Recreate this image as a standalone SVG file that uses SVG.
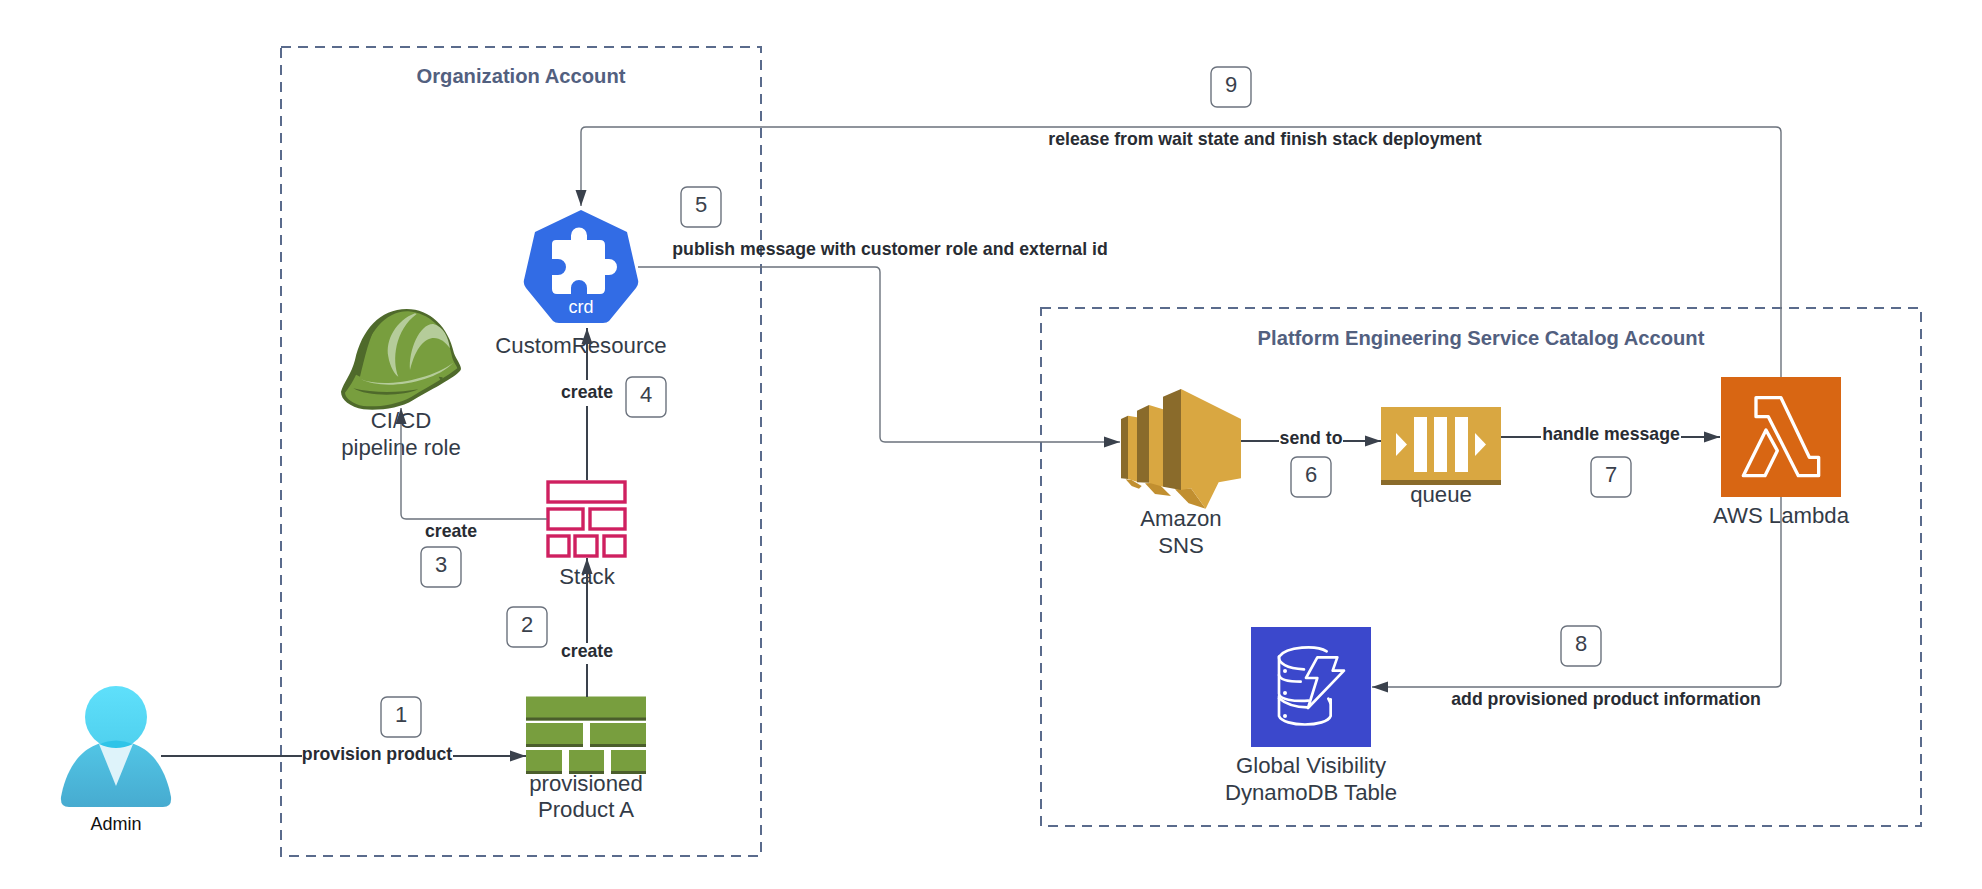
<svg xmlns="http://www.w3.org/2000/svg" width="1982" height="889" viewBox="0 0 1982 889">
<style>
text{font-family:"Liberation Sans",Arial,sans-serif;text-anchor:middle}
.box{fill:none;stroke:#5a6b8c;stroke-width:2;stroke-dasharray:10 7}
.title{font-size:20.200px;font-weight:bold;fill:#52607f}
.lbl{font-size:22.200px;fill:#333b47}
.cl{font-size:17.700px;font-weight:bold;fill:#282c33}
.badge rect{fill:#fff;stroke:#6b727d;stroke-width:1.400}
.badge text{font-size:22px;fill:#3a414c}
.thick{fill:none;stroke:#3a414c;stroke-width:2}
.thin{fill:none;stroke:#6b727c;stroke-width:1.400}
.bg{fill:#fff}
</style>
<defs>
<marker id="arrow" markerUnits="userSpaceOnUse" markerWidth="16" markerHeight="12" refX="16" refY="6" orient="auto"><path d="M0 0.500L16 6L0 11.500z" fill="#3a414c"/></marker>
<linearGradient id="head" x1="0" y1="0" x2="0" y2="1"><stop offset="0" stop-color="#5fe0fb"/><stop offset="1" stop-color="#4fd0ee"/></linearGradient>
<linearGradient id="body" x1="0" y1="0" x2="0" y2="1"><stop offset="0" stop-color="#52c6e6"/><stop offset="1" stop-color="#47abd0"/></linearGradient>
</defs>
<g id="containers">
<rect class="box" x="281" y="47" width="480" height="809"/>
<text class="title" x="521" y="83">Organization Account</text>
<rect class="box" x="1041" y="308" width="880" height="518"/>
<text class="title" x="1481" y="345">Platform Engineering Service Catalog Account</text>
</g>
<g id="admin">
<path d="M116 741C154 741 167 775 171 797Q172 807 163 807H69Q60 807 61 797C65 775 78 741 116 741Z" fill="url(#body)"/>
<ellipse cx="116" cy="717" rx="31" ry="31" fill="url(#head)"/>
<path d="M99 744Q116 741 133 744L116 786Z" fill="#def3fa"/>
<path d="M99 744Q116 737 133 744Q116 752 99 744Z" fill="#2fc4e8"/>
<text x="116" y="829.500" style="font-size:18px;fill:#111">Admin</text>
</g>
<g id="product-a">
<g fill="#789e3e">
<rect x="526" y="696.500" width="120" height="24"/><rect x="526" y="723" width="57" height="24"/><rect x="590" y="723" width="56" height="24"/>
<rect x="526" y="750" width="36" height="24"/><rect x="569" y="750" width="35" height="24"/><rect x="611" y="750" width="35" height="24"/>
</g>
<g fill="#4b5e2c">
<rect x="526" y="717.500" width="120" height="3"/><rect x="526" y="744" width="57" height="3"/><rect x="590" y="744" width="56" height="3"/>
<rect x="526" y="771" width="36" height="3"/><rect x="569" y="771" width="35" height="3"/><rect x="611" y="771" width="35" height="3"/>
</g>
<text class="lbl" x="586" y="791">provisioned</text>
<text class="lbl" x="586" y="817">Product A</text>
</g>
<g id="stack">
<g fill="none" stroke="#cf2060" stroke-width="3.400">
<rect x="548" y="482" width="77" height="20"/><rect x="548" y="509" width="35" height="20"/><rect x="590" y="509" width="35" height="20"/>
<rect x="548" y="536" width="21" height="20"/><rect x="575" y="536" width="22" height="20"/><rect x="604" y="536" width="21" height="20"/>
</g>
<text class="lbl" x="587" y="584">Stack</text>
</g>
<g id="customresource">
<path d="M581 210L627 232L638 280Q639 284 636 288L609 321Q607 323 603 323H559Q555 323 553 321L526 288Q523 284 524 280L535 232Z" fill="#326ce5"/>
<path d="M556 240H571V235.500A8 8 0 0 1 587 235.500V240H600Q605 240 605 245V259H609A8 8 0 0 1 609 275H605V289Q605 294 600 294H587V288A8 8 0 0 0 571 288V294H557Q552 294 552 289V275H558A8 8 0 0 0 558 259H552V244Q552 240 556 240Z" fill="#fff"/>
<text x="581" y="313" style="font-size:18px;fill:#fff">crd</text>
<text class="lbl" x="581" y="353">CustomResource</text>
</g>
<g id="cicd-role">
<g transform="translate(300 180) scale(.3333)">
<path d="M320 387C390 387 445 440 462 520C470 540 483 555 483 567C480 585 400 625 340 660C300 685 240 692 190 688C150 680 123 660 123 635C130 610 155 580 165 540C185 450 240 387 320 387Z" fill="#4f6a2b"/>
<path d="M325 394C385 398 440 445 455 525C458 545 470 555 472 565C440 590 400 612 335 650C290 675 230 682 190 678C160 672 135 655 135 638C150 620 170 590 185 540C205 460 255 392 325 394Z" fill="#789e3e"/>
<path d="M345 400C290 420 255 480 265 530C270 560 285 585 295 590C275 540 285 450 350 402Z" fill="#b5cc9a"/>
<path d="M330 570C325 510 360 430 400 432C430 440 445 470 450 505C420 460 360 450 330 570Z" fill="#b5cc9a"/>
<path d="M183 598C250 625 390 600 460 548C400 610 250 632 183 598Z" fill="#b5cc9a"/>
<path d="M160 625C220 640 300 638 355 628C310 650 200 650 160 625Z" fill="#4f6a2b"/>
<path d="M160 580C175 535 195 470 235 420C205 480 195 530 180 590Z" fill="#4f6a2b"/>
<path d="M416 590L428 592L426 608Z" fill="#4f6a2b"/>
</g>
<text class="lbl" x="401" y="428">CI/CD</text>
<text class="lbl" x="401" y="455">pipeline role</text>
</g>
<g id="sns">
<g transform="translate(1090 360) scale(.3333)">
<path d="M107 358L125 360L155 378L147 386L125 378Z" fill="#c18f30"/>
<path d="M93 177L114 167V357L93 355Z" fill="#8a6b2b"/>
<path d="M114 167L141 172V365L114 357Z" fill="#d9a741"/>
<path d="M165 370L203 368L243 408L195 402Z" fill="#c18f30"/>
<path d="M141 152L177 135V368L141 367Z" fill="#8a6b2b"/>
<path d="M177 135L219 148V380L177 368Z" fill="#d9a741"/>
<path d="M255 388L303 385L347 446L296 430Z" fill="#c18f30"/>
<path d="M219 110L273 87V390L219 380Z" fill="#8a6b2b"/>
<path d="M273 87L453 177V355L386 367L347 446L303 385L273 390Z" fill="#d9a741"/>
</g>
<text class="lbl" x="1181" y="526">Amazon</text>
<text class="lbl" x="1181" y="553">SNS</text>
</g>
<g id="queue">
<rect x="1381" y="407" width="120" height="78" fill="#d9a741"/>
<rect x="1381" y="480" width="120" height="5" fill="#8a6b2b"/>
<g fill="#fff">
<rect x="1414" y="417" width="13" height="55"/><rect x="1434" y="417" width="13" height="55"/><rect x="1455" y="417" width="13" height="55"/>
<path d="M1396 433L1407 444.500L1396 456Z"/><path d="M1475 433L1486 444.500L1475 456Z"/>
</g>
<text class="lbl" x="1441" y="502">queue</text>
</g>
<g id="lambda">
<rect x="1721" y="377" width="120" height="120" fill="#d86613"/>
<g transform="translate(1680 360) scale(.3333)" fill="none" stroke="#fff" stroke-width="10" stroke-linejoin="round">
<path d="M228 113H303L388 292H416V347H355L265 170H228Z"/>
<path d="M258 210L292 272L255 347H190Z"/>
</g>
<text class="lbl" x="1781" y="523">AWS Lambda</text>
</g>
<g id="dynamodb">
<rect x="1251" y="627" width="120" height="120" fill="#3b48cc"/>
<g transform="translate(1230 610) scale(.3333)" fill="none" stroke="#fff" stroke-width="8" stroke-linecap="round">
<path d="M290 124C260 105 170 108 147 140C145 160 170 175 222 178"/>
<path d="M147 140V195C150 210 180 215 212 215"/>
<path d="M147 195V252C150 268 190 275 235 272"/>
<path d="M147 258V318C160 352 290 352 302 318V268"/>
<path d="M262 142H322L308 182H342L234 294L262 204H228Z" stroke-linejoin="round"/>
<path d="M147 265C170 285 205 292 232 292M295 266L302 280"/>
</g>
<g fill="#fff"><circle cx="1285" cy="671" r="2"/><circle cx="1285" cy="693" r="2"/><circle cx="1285" cy="716" r="2"/></g>
<text class="lbl" x="1311" y="773">Global Visibility</text>
<text class="lbl" x="1311" y="800">DynamoDB Table</text>
</g>
<g id="connectors">
<path class="thick" d="M161 756H526" marker-end="url(#arrow)"/>
<path class="thick" d="M587 697V558" marker-end="url(#arrow)"/>
<path class="thick" d="M587 480V328" marker-end="url(#arrow)"/>
<path class="thin" d="M547 519H406Q401 519 401 514V408" marker-end="url(#arrow)"/>
<path class="thin" d="M638 267H875Q880 267 880 272V437Q880 442 885 442H1120" marker-end="url(#arrow)"/>
<path class="thick" d="M1241 441H1381" marker-end="url(#arrow)"/>
<path class="thick" d="M1501 437H1720" marker-end="url(#arrow)"/>
<path class="thin" d="M1781 497V682Q1781 687 1776 687H1372" marker-end="url(#arrow)"/>
<path class="thin" d="M1781 377V132Q1781 127 1776 127H586Q581 127 581 132V206" marker-end="url(#arrow)"/>
</g>
<g id="connector-labels">
<rect class="bg" x="302" y="745" width="151" height="22"/><text class="cl" x="377" y="760">provision product</text>
<rect class="bg" x="560" y="643" width="54" height="21"/><text class="cl" x="587" y="657">create</text>
<rect class="bg" x="426" y="520" width="52" height="21"/><text class="cl" x="451" y="537">create</text>
<rect class="bg" x="560" y="380" width="54" height="26"/><text class="cl" x="587" y="398">create</text>
<text class="cl" x="890" y="255">publish message with customer role and external id</text>
<rect class="bg" x="1279" y="428" width="64" height="22"/><text class="cl" x="1311" y="444">send to</text>
<rect class="bg" x="1541" y="424" width="140" height="22"/><text class="cl" x="1611" y="440">handle message</text>
<text class="cl" x="1606" y="705">add provisioned product information</text>
<text class="cl" x="1265" y="145">release from wait state and finish stack deployment</text>
</g>
<g id="badges">
<g class="badge"><rect x="381" y="697" width="40" height="40" rx="6"/><text x="401" y="722">1</text></g>
<g class="badge"><rect x="507" y="607" width="40" height="40" rx="6"/><text x="527" y="632">2</text></g>
<g class="badge"><rect x="421" y="547" width="40" height="40" rx="6"/><text x="441" y="572">3</text></g>
<g class="badge"><rect x="626" y="377" width="40" height="40" rx="6"/><text x="646" y="402">4</text></g>
<g class="badge"><rect x="681" y="187" width="40" height="40" rx="6"/><text x="701" y="212">5</text></g>
<g class="badge"><rect x="1291" y="457" width="40" height="40" rx="6"/><text x="1311" y="482">6</text></g>
<g class="badge"><rect x="1591" y="457" width="40" height="40" rx="6"/><text x="1611" y="482">7</text></g>
<g class="badge"><rect x="1561" y="626" width="40" height="40" rx="6"/><text x="1581" y="651">8</text></g>
<g class="badge"><rect x="1211" y="67" width="40" height="40" rx="6"/><text x="1231" y="92">9</text></g>
</g>
</svg>
